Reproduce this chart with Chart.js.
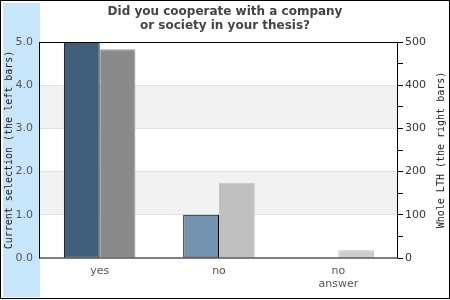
<!DOCTYPE html>
<html>
<head>
<meta charset="utf-8">
<script src="https://cdn.jsdelivr.net/npm/chart.js@4"></script>
<style>
  html, body { margin: 0; padding: 0; background: #fff; }
  #wrap { width: 450px; height: 300px; }
</style>
</head>
<body>
<div id="wrap"><canvas id="cooperationChart" width="450" height="300"></canvas></div>
<script>
"use strict";

// values
const categories = ['yes', 'no', ['no', 'answer']];
const currentSelection = [5, 1, 0];       // left bars, left axis
const wholeLth = [483, 174, 18];          // right bars, right axis
const leftTicks = [0, 1, 2, 3, 4, 5];
const rightTicks = [0, 100, 200, 300, 400, 500];
const stripeBands = [[1, 2], [3, 4]];

const leftColors = ['#3f5f7b', '#7394b0', '#a9bfd2'];
const rightColors = ['#8a8a8a', '#bfbfbf', '#cccccc'];
const rightBorders = ['#9c9c9c', '#c4c4c4', '#bcbcbc'];

const SANS = '"DejaVu Sans", sans-serif';
const MONO = '"DejaVu Sans Mono", monospace';

const backdropPlugin = {
  id: 'backdrop',
  beforeDraw: (chart) => {
    const { ctx, chartArea } = chart;
    const y = chart.scales.y;
    ctx.save();
    ctx.fillStyle = '#ffffff';
    ctx.fillRect(0, 0, chart.width, chart.height);
    // light blue strip behind the left axis
    ctx.fillStyle = '#c8e6fb';
    ctx.fillRect(3, 3, 37, 294);
    // outer frame
    ctx.strokeStyle = '#000';
    ctx.lineWidth = 1;
    ctx.strokeRect(0.5, 0.5, 449, 298);
    // grey bands
    ctx.fillStyle = '#f2f2f2';
    stripeBands.forEach(([a, b]) => {
      const top = y.getPixelForValue(b);
      const bottom = y.getPixelForValue(a);
      ctx.fillRect(chartArea.left, top, chartArea.right - chartArea.left, bottom - top);
    });
    ctx.restore();
  },
  afterDatasetsDraw: (chart) => {
    const { ctx, chartArea } = chart;
    ctx.save();
    ctx.strokeStyle = '#000';
    ctx.lineWidth = 1;
    ctx.strokeRect(Math.round(chartArea.left) - 0.5, Math.round(chartArea.top) + 0.5,
      Math.round(chartArea.right - chartArea.left), Math.round(chartArea.bottom - chartArea.top) - 0.5);
    // axis titles, both read bottom to top
    ctx.font = '10px ' + MONO;
    ctx.fillStyle = '#222';
    ctx.textAlign = 'center';
    ctx.textBaseline = 'middle';
    const midY = (chartArea.top + chartArea.bottom) / 2;
    [[9, 'Current selection (the left bars)'], [441, 'Whole LTH (the right bars)']].forEach(([x, text]) => {
      ctx.save();
      ctx.translate(x, midY);
      ctx.rotate(-Math.PI / 2);
      ctx.fillText(text, 0, 0);
      ctx.restore();
    });
    ctx.restore();
  }
};

const ctxCooperation = document.getElementById('cooperationChart');
new Chart(ctxCooperation, {
  type: 'bar',
  data: {
    labels: categories,
    datasets: [{
      label: 'Current selection',
      data: currentSelection,
      yAxisID: 'y',
      backgroundColor: leftColors,
      borderColor: '#000',
      borderWidth: 1,
      borderSkipped: false,
      categoryPercentage: 0.6,
      barPercentage: 1.0
    }, {
      label: 'Whole LTH',
      data: wholeLth,
      yAxisID: 'y2',
      backgroundColor: rightColors,
      borderColor: rightBorders,
      borderWidth: 1,
      borderSkipped: 'bottom',
      categoryPercentage: 0.6,
      barPercentage: 1.0
    }]
  },
  options: {
    responsive: false,
    animation: false,
    devicePixelRatio: 1,
    layout: { padding: 0 },
    plugins: {
      legend: { display: false },
      tooltip: { enabled: false },
      title: {
        display: true,
        text: ['Did you cooperate with a company', 'or society in your thesis?'],
        color: '#444',
        font: { family: SANS, size: 12, weight: 'bold', lineHeight: '14px' },
        padding: { top: 5, bottom: 9 }
      }
    },
    scales: {
      x: {
        grid: { display: false, drawTicks: false },
        border: { display: false },
        ticks: {
          color: '#555',
          font: { family: SANS, size: 11, lineHeight: 1.15 },
          padding: 7,
          maxRotation: 0,
          autoSkip: false
        },
        afterFit: (scale) => { scale.height = 42; }
      },
      y: {
        position: 'left',
        min: leftTicks[0],
        max: leftTicks[leftTicks.length - 1],
        border: { display: false },
        grid: {
          drawTicks: false,
          color: (c) => (c.tick.value === 0 || c.tick.value === 5) ? 'rgba(0,0,0,0)' : '#e2e2e2'
        },
        ticks: {
          stepSize: 1,
          padding: 7,
          color: '#555',
          font: { family: SANS, size: 11 },
          callback: (v) => leftTicks.includes(v) ? v.toFixed(1) : ''
        },
        afterFit: (scale) => { scale.width = 40; }
      },
      y2: {
        position: 'right',
        min: rightTicks[0],
        max: rightTicks[rightTicks.length - 1],
        border: { display: false },
        grid: {
          drawOnChartArea: false,
          drawTicks: true,
          tickLength: 5,
          tickColor: '#000'
        },
        ticks: {
          stepSize: 50,
          padding: 2,
          color: '#333',
          font: { family: SANS, size: 11 },
          callback: (v) => rightTicks.includes(v) ? String(v) : ''
        },
        afterFit: (scale) => { scale.width = 52; }
      }
    }
  },
  plugins: [backdropPlugin]
});
</script>
</body>
</html>
